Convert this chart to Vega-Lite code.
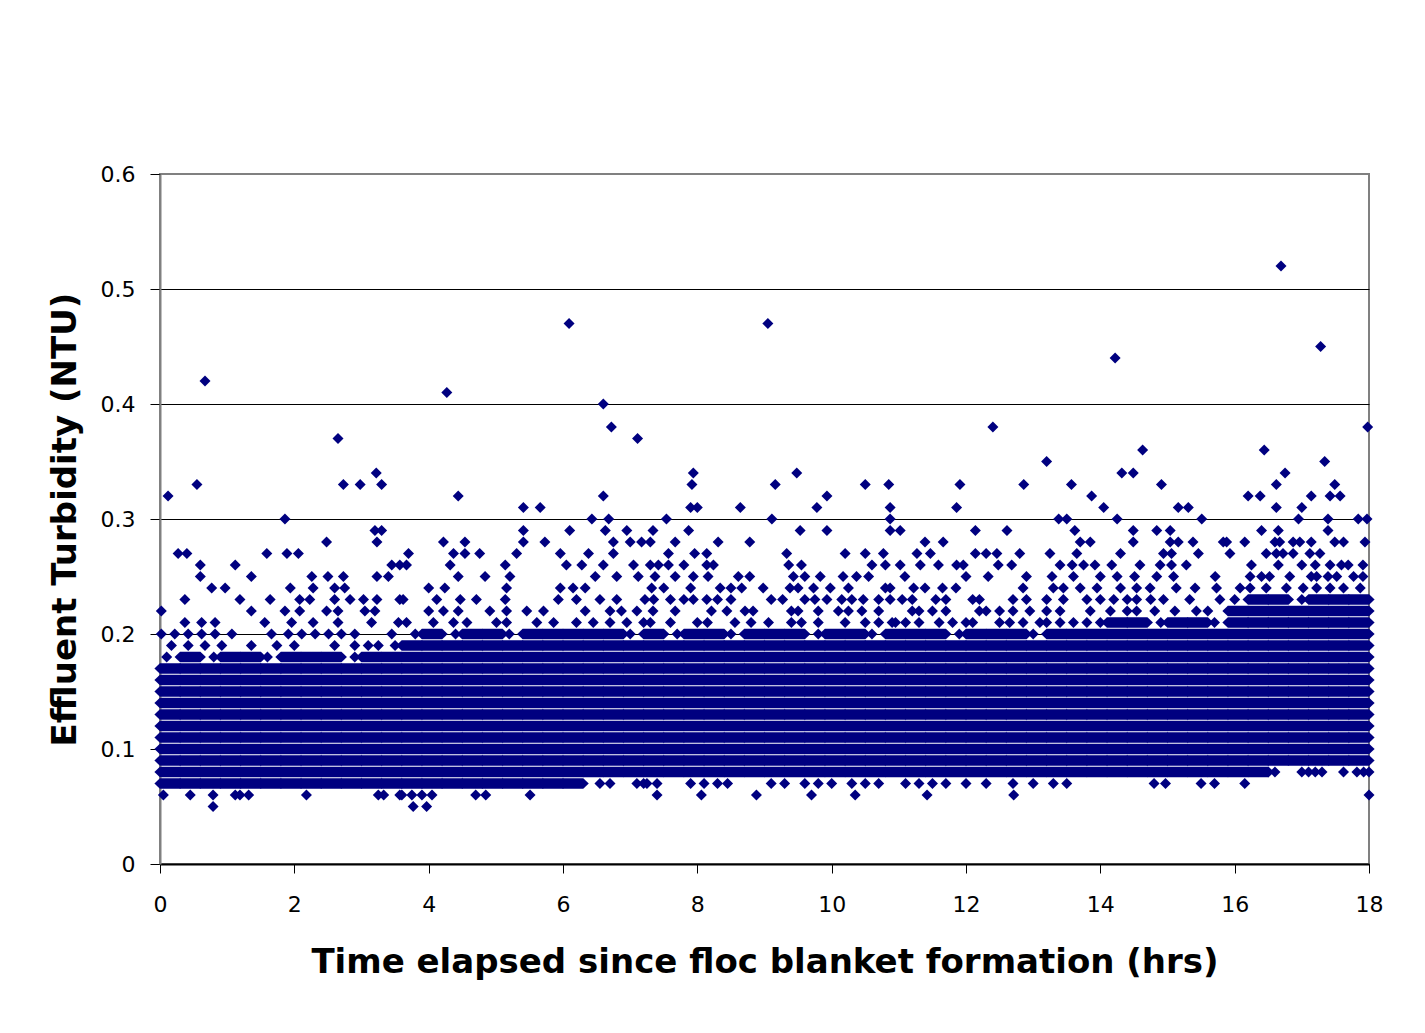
{
  "$schema": "https://vega.github.io/schema/vega-lite/v6.json",
  "width": 1209,
  "height": 690,
  "autosize": {"type": "none"},
  "padding": {"left": 160, "top": 174, "right": 56, "bottom": 169},
  "background": "white",
  "config": {
    "view": {"stroke": "#808080", "strokeWidth": 2},
    "axis": {
      "labelFont": "DejaVu Sans",
      "labelFontSize": 22,
      "labelColor": "black",
      "titleFont": "DejaVu Sans",
      "titleFontSize": 34,
      "titleFontWeight": "bold",
      "titleColor": "black",
      "tickColor": "black",
      "tickWidth": 1
    }
  },
  "encoding": {
    "x": {
      "field": "t",
      "type": "quantitative",
      "scale": {"domain": [0, 18], "nice": false, "zero": false},
      "axis": {
        "values": [0, 2, 4, 6, 8, 10, 12, 14, 16, 18],
        "grid": false,
        "tickSize": 9,
        "labelPadding": 21,
        "labelFlush": false,
        "labelOverlap": false,
        "domainColor": "black",
        "domainWidth": 2,
        "title": "Time elapsed since floc blanket formation (hrs)",
        "titlePadding": 30
      }
    },
    "y": {
      "field": "v",
      "type": "quantitative",
      "scale": {"domain": [0, 0.6], "nice": false},
      "axis": {
        "values": [0, 0.1, 0.2, 0.3, 0.4, 0.5, 0.6],
        "format": ".1~f",
        "tickSize": 10,
        "labelPadding": 15,
        "labelOverlap": false,
        "domainColor": "#808080",
        "domainWidth": 2,
        "grid": true,
        "gridColor": {"condition": {"test": "datum.value > 0.55", "value": "#808080"}, "value": "black"},
        "gridWidth": 1,
        "title": "Effluent Turbidity (NTU)",
        "titlePadding": 18
      }
    }
  },
  "layer": [
    {
      "data": {
        "values": "t,v\n0.15,0.07\n0.15,0.08\n0.15,0.09\n0.15,0.1\n0.15,0.11\n0.15,0.12\n0.15,0.13\n0.15,0.14\n0.15,0.15\n0.15,0.16\n0.15,0.17\n0.45,0.07\n0.45,0.08\n0.45,0.09\n0.45,0.1\n0.45,0.11\n0.45,0.12\n0.45,0.13\n0.45,0.14\n0.45,0.15\n0.45,0.16\n0.45,0.17\n0.45,0.18\n0.75,0.07\n0.75,0.08\n0.75,0.09\n0.75,0.1\n0.75,0.11\n0.75,0.12\n0.75,0.13\n0.75,0.14\n0.75,0.15\n0.75,0.16\n0.75,0.17\n1.05,0.07\n1.05,0.08\n1.05,0.09\n1.05,0.1\n1.05,0.11\n1.05,0.12\n1.05,0.13\n1.05,0.14\n1.05,0.15\n1.05,0.16\n1.05,0.17\n1.05,0.18\n1.35,0.07\n1.35,0.08\n1.35,0.09\n1.35,0.1\n1.35,0.11\n1.35,0.12\n1.35,0.13\n1.35,0.14\n1.35,0.15\n1.35,0.16\n1.35,0.17\n1.35,0.18\n1.65,0.07\n1.65,0.08\n1.65,0.09\n1.65,0.1\n1.65,0.11\n1.65,0.12\n1.65,0.13\n1.65,0.14\n1.65,0.15\n1.65,0.16\n1.65,0.17\n1.95,0.07\n1.95,0.08\n1.95,0.09\n1.95,0.1\n1.95,0.11\n1.95,0.12\n1.95,0.13\n1.95,0.14\n1.95,0.15\n1.95,0.16\n1.95,0.17\n1.95,0.18\n2.25,0.07\n2.25,0.08\n2.25,0.09\n2.25,0.1\n2.25,0.11\n2.25,0.12\n2.25,0.13\n2.25,0.14\n2.25,0.15\n2.25,0.16\n2.25,0.17\n2.25,0.18\n2.55,0.07\n2.55,0.08\n2.55,0.09\n2.55,0.1\n2.55,0.11\n2.55,0.12\n2.55,0.13\n2.55,0.14\n2.55,0.15\n2.55,0.16\n2.55,0.17\n2.55,0.18\n2.85,0.07\n2.85,0.08\n2.85,0.09\n2.85,0.1\n2.85,0.11\n2.85,0.12\n2.85,0.13\n2.85,0.14\n2.85,0.15\n2.85,0.16\n2.85,0.17\n3.15,0.07\n3.15,0.08\n3.15,0.09\n3.15,0.1\n3.15,0.11\n3.15,0.12\n3.15,0.13\n3.15,0.14\n3.15,0.15\n3.15,0.16\n3.15,0.17\n3.15,0.18\n3.45,0.07\n3.45,0.08\n3.45,0.09\n3.45,0.1\n3.45,0.11\n3.45,0.12\n3.45,0.13\n3.45,0.14\n3.45,0.15\n3.45,0.16\n3.45,0.17\n3.45,0.18\n3.75,0.07\n3.75,0.08\n3.75,0.09\n3.75,0.1\n3.75,0.11\n3.75,0.12\n3.75,0.13\n3.75,0.14\n3.75,0.15\n3.75,0.16\n3.75,0.17\n3.75,0.18\n3.75,0.19\n4.05,0.07\n4.05,0.08\n4.05,0.09\n4.05,0.1\n4.05,0.11\n4.05,0.12\n4.05,0.13\n4.05,0.14\n4.05,0.15\n4.05,0.16\n4.05,0.17\n4.05,0.18\n4.05,0.19\n4.05,0.2\n4.35,0.07\n4.35,0.08\n4.35,0.09\n4.35,0.1\n4.35,0.11\n4.35,0.12\n4.35,0.13\n4.35,0.14\n4.35,0.15\n4.35,0.16\n4.35,0.17\n4.35,0.18\n4.35,0.19\n4.65,0.07\n4.65,0.08\n4.65,0.09\n4.65,0.1\n4.65,0.11\n4.65,0.12\n4.65,0.13\n4.65,0.14\n4.65,0.15\n4.65,0.16\n4.65,0.17\n4.65,0.18\n4.65,0.19\n4.65,0.2\n4.95,0.07\n4.95,0.08\n4.95,0.09\n4.95,0.1\n4.95,0.11\n4.95,0.12\n4.95,0.13\n4.95,0.14\n4.95,0.15\n4.95,0.16\n4.95,0.17\n4.95,0.18\n4.95,0.19\n4.95,0.2\n5.25,0.07\n5.25,0.08\n5.25,0.09\n5.25,0.1\n5.25,0.11\n5.25,0.12\n5.25,0.13\n5.25,0.14\n5.25,0.15\n5.25,0.16\n5.25,0.17\n5.25,0.18\n5.25,0.19\n5.55,0.07\n5.55,0.08\n5.55,0.09\n5.55,0.1\n5.55,0.11\n5.55,0.12\n5.55,0.13\n5.55,0.14\n5.55,0.15\n5.55,0.16\n5.55,0.17\n5.55,0.18\n5.55,0.19\n5.55,0.2\n5.85,0.07\n5.85,0.08\n5.85,0.09\n5.85,0.1\n5.85,0.11\n5.85,0.12\n5.85,0.13\n5.85,0.14\n5.85,0.15\n5.85,0.16\n5.85,0.17\n5.85,0.18\n5.85,0.19\n5.85,0.2\n6.15,0.07\n6.15,0.08\n6.15,0.09\n6.15,0.1\n6.15,0.11\n6.15,0.12\n6.15,0.13\n6.15,0.14\n6.15,0.15\n6.15,0.16\n6.15,0.17\n6.15,0.18\n6.15,0.19\n6.15,0.2\n6.45,0.08\n6.45,0.09\n6.45,0.1\n6.45,0.11\n6.45,0.12\n6.45,0.13\n6.45,0.14\n6.45,0.15\n6.45,0.16\n6.45,0.17\n6.45,0.18\n6.45,0.19\n6.45,0.2\n6.75,0.08\n6.75,0.09\n6.75,0.1\n6.75,0.11\n6.75,0.12\n6.75,0.13\n6.75,0.14\n6.75,0.15\n6.75,0.16\n6.75,0.17\n6.75,0.18\n6.75,0.19\n6.75,0.2\n7.05,0.08\n7.05,0.09\n7.05,0.1\n7.05,0.11\n7.05,0.12\n7.05,0.13\n7.05,0.14\n7.05,0.15\n7.05,0.16\n7.05,0.17\n7.05,0.18\n7.05,0.19\n7.35,0.08\n7.35,0.09\n7.35,0.1\n7.35,0.11\n7.35,0.12\n7.35,0.13\n7.35,0.14\n7.35,0.15\n7.35,0.16\n7.35,0.17\n7.35,0.18\n7.35,0.19\n7.35,0.2\n7.65,0.08\n7.65,0.09\n7.65,0.1\n7.65,0.11\n7.65,0.12\n7.65,0.13\n7.65,0.14\n7.65,0.15\n7.65,0.16\n7.65,0.17\n7.65,0.18\n7.65,0.19\n7.95,0.08\n7.95,0.09\n7.95,0.1\n7.95,0.11\n7.95,0.12\n7.95,0.13\n7.95,0.14\n7.95,0.15\n7.95,0.16\n7.95,0.17\n7.95,0.18\n7.95,0.19\n7.95,0.2\n8.25,0.08\n8.25,0.09\n8.25,0.1\n8.25,0.11\n8.25,0.12\n8.25,0.13\n8.25,0.14\n8.25,0.15\n8.25,0.16\n8.25,0.17\n8.25,0.18\n8.25,0.19\n8.25,0.2\n8.55,0.08\n8.55,0.09\n8.55,0.1\n8.55,0.11\n8.55,0.12\n8.55,0.13\n8.55,0.14\n8.55,0.15\n8.55,0.16\n8.55,0.17\n8.55,0.18\n8.55,0.19\n8.85,0.08\n8.85,0.09\n8.85,0.1\n8.85,0.11\n8.85,0.12\n8.85,0.13\n8.85,0.14\n8.85,0.15\n8.85,0.16\n8.85,0.17\n8.85,0.18\n8.85,0.19\n8.85,0.2\n9.15,0.08\n9.15,0.09\n9.15,0.1\n9.15,0.11\n9.15,0.12\n9.15,0.13\n9.15,0.14\n9.15,0.15\n9.15,0.16\n9.15,0.17\n9.15,0.18\n9.15,0.19\n9.15,0.2\n9.45,0.08\n9.45,0.09\n9.45,0.1\n9.45,0.11\n9.45,0.12\n9.45,0.13\n9.45,0.14\n9.45,0.15\n9.45,0.16\n9.45,0.17\n9.45,0.18\n9.45,0.19\n9.45,0.2\n9.75,0.08\n9.75,0.09\n9.75,0.1\n9.75,0.11\n9.75,0.12\n9.75,0.13\n9.75,0.14\n9.75,0.15\n9.75,0.16\n9.75,0.17\n9.75,0.18\n9.75,0.19\n10.05,0.08\n10.05,0.09\n10.05,0.1\n10.05,0.11\n10.05,0.12\n10.05,0.13\n10.05,0.14\n10.05,0.15\n10.05,0.16\n10.05,0.17\n10.05,0.18\n10.05,0.19\n10.05,0.2\n10.35,0.08\n10.35,0.09\n10.35,0.1\n10.35,0.11\n10.35,0.12\n10.35,0.13\n10.35,0.14\n10.35,0.15\n10.35,0.16\n10.35,0.17\n10.35,0.18\n10.35,0.19\n10.35,0.2\n10.65,0.08\n10.65,0.09\n10.65,0.1\n10.65,0.11\n10.65,0.12\n10.65,0.13\n10.65,0.14\n10.65,0.15\n10.65,0.16\n10.65,0.17\n10.65,0.18\n10.65,0.19\n10.95,0.08\n10.95,0.09\n10.95,0.1\n10.95,0.11\n10.95,0.12\n10.95,0.13\n10.95,0.14\n10.95,0.15\n10.95,0.16\n10.95,0.17\n10.95,0.18\n10.95,0.19\n10.95,0.2\n11.25,0.08\n11.25,0.09\n11.25,0.1\n11.25,0.11\n11.25,0.12\n11.25,0.13\n11.25,0.14\n11.25,0.15\n11.25,0.16\n11.25,0.17\n11.25,0.18\n11.25,0.19\n11.25,0.2\n11.55,0.08\n11.55,0.09\n11.55,0.1\n11.55,0.11\n11.55,0.12\n11.55,0.13\n11.55,0.14\n11.55,0.15\n11.55,0.16\n11.55,0.17\n11.55,0.18\n11.55,0.19\n11.55,0.2\n11.85,0.08\n11.85,0.09\n11.85,0.1\n11.85,0.11\n11.85,0.12\n11.85,0.13\n11.85,0.14\n11.85,0.15\n11.85,0.16\n11.85,0.17\n11.85,0.18\n11.85,0.19\n12.15,0.08\n12.15,0.09\n12.15,0.1\n12.15,0.11\n12.15,0.12\n12.15,0.13\n12.15,0.14\n12.15,0.15\n12.15,0.16\n12.15,0.17\n12.15,0.18\n12.15,0.19\n12.15,0.2\n12.45,0.08\n12.45,0.09\n12.45,0.1\n12.45,0.11\n12.45,0.12\n12.45,0.13\n12.45,0.14\n12.45,0.15\n12.45,0.16\n12.45,0.17\n12.45,0.18\n12.45,0.19\n12.45,0.2\n12.75,0.08\n12.75,0.09\n12.75,0.1\n12.75,0.11\n12.75,0.12\n12.75,0.13\n12.75,0.14\n12.75,0.15\n12.75,0.16\n12.75,0.17\n12.75,0.18\n12.75,0.19\n12.75,0.2\n13.05,0.08\n13.05,0.09\n13.05,0.1\n13.05,0.11\n13.05,0.12\n13.05,0.13\n13.05,0.14\n13.05,0.15\n13.05,0.16\n13.05,0.17\n13.05,0.18\n13.05,0.19\n13.35,0.08\n13.35,0.09\n13.35,0.1\n13.35,0.11\n13.35,0.12\n13.35,0.13\n13.35,0.14\n13.35,0.15\n13.35,0.16\n13.35,0.17\n13.35,0.18\n13.35,0.19\n13.35,0.2\n13.65,0.08\n13.65,0.09\n13.65,0.1\n13.65,0.11\n13.65,0.12\n13.65,0.13\n13.65,0.14\n13.65,0.15\n13.65,0.16\n13.65,0.17\n13.65,0.18\n13.65,0.19\n13.65,0.2\n13.95,0.08\n13.95,0.09\n13.95,0.1\n13.95,0.11\n13.95,0.12\n13.95,0.13\n13.95,0.14\n13.95,0.15\n13.95,0.16\n13.95,0.17\n13.95,0.18\n13.95,0.19\n13.95,0.2\n14.25,0.08\n14.25,0.09\n14.25,0.1\n14.25,0.11\n14.25,0.12\n14.25,0.13\n14.25,0.14\n14.25,0.15\n14.25,0.16\n14.25,0.17\n14.25,0.18\n14.25,0.19\n14.25,0.2\n14.25,0.21\n14.55,0.08\n14.55,0.09\n14.55,0.1\n14.55,0.11\n14.55,0.12\n14.55,0.13\n14.55,0.14\n14.55,0.15\n14.55,0.16\n14.55,0.17\n14.55,0.18\n14.55,0.19\n14.55,0.2\n14.55,0.21\n14.85,0.08\n14.85,0.09\n14.85,0.1\n14.85,0.11\n14.85,0.12\n14.85,0.13\n14.85,0.14\n14.85,0.15\n14.85,0.16\n14.85,0.17\n14.85,0.18\n14.85,0.19\n14.85,0.2\n15.15,0.08\n15.15,0.09\n15.15,0.1\n15.15,0.11\n15.15,0.12\n15.15,0.13\n15.15,0.14\n15.15,0.15\n15.15,0.16\n15.15,0.17\n15.15,0.18\n15.15,0.19\n15.15,0.2\n15.15,0.21\n15.45,0.08\n15.45,0.09\n15.45,0.1\n15.45,0.11\n15.45,0.12\n15.45,0.13\n15.45,0.14\n15.45,0.15\n15.45,0.16\n15.45,0.17\n15.45,0.18\n15.45,0.19\n15.45,0.2\n15.45,0.21\n15.75,0.08\n15.75,0.09\n15.75,0.1\n15.75,0.11\n15.75,0.12\n15.75,0.13\n15.75,0.14\n15.75,0.15\n15.75,0.16\n15.75,0.17\n15.75,0.18\n15.75,0.19\n15.75,0.2\n16.05,0.08\n16.05,0.09\n16.05,0.1\n16.05,0.11\n16.05,0.12\n16.05,0.13\n16.05,0.14\n16.05,0.15\n16.05,0.16\n16.05,0.17\n16.05,0.18\n16.05,0.19\n16.05,0.2\n16.05,0.21\n16.05,0.22\n16.35,0.08\n16.35,0.09\n16.35,0.1\n16.35,0.11\n16.35,0.12\n16.35,0.13\n16.35,0.14\n16.35,0.15\n16.35,0.16\n16.35,0.17\n16.35,0.18\n16.35,0.19\n16.35,0.2\n16.35,0.21\n16.35,0.22\n16.35,0.23\n16.65,0.09\n16.65,0.1\n16.65,0.11\n16.65,0.12\n16.65,0.13\n16.65,0.14\n16.65,0.15\n16.65,0.16\n16.65,0.17\n16.65,0.18\n16.65,0.19\n16.65,0.2\n16.65,0.21\n16.65,0.22\n16.65,0.23\n16.95,0.09\n16.95,0.1\n16.95,0.11\n16.95,0.12\n16.95,0.13\n16.95,0.14\n16.95,0.15\n16.95,0.16\n16.95,0.17\n16.95,0.18\n16.95,0.19\n16.95,0.2\n16.95,0.21\n16.95,0.22\n17.25,0.09\n17.25,0.1\n17.25,0.11\n17.25,0.12\n17.25,0.13\n17.25,0.14\n17.25,0.15\n17.25,0.16\n17.25,0.17\n17.25,0.18\n17.25,0.19\n17.25,0.2\n17.25,0.21\n17.25,0.22\n17.25,0.23\n17.55,0.09\n17.55,0.1\n17.55,0.11\n17.55,0.12\n17.55,0.13\n17.55,0.14\n17.55,0.15\n17.55,0.16\n17.55,0.17\n17.55,0.18\n17.55,0.19\n17.55,0.2\n17.55,0.21\n17.55,0.22\n17.55,0.23\n17.85,0.09\n17.85,0.1\n17.85,0.11\n17.85,0.12\n17.85,0.13\n17.85,0.14\n17.85,0.15\n17.85,0.16\n17.85,0.17\n17.85,0.18\n17.85,0.19\n17.85,0.2\n17.85,0.21\n17.85,0.22\n17.85,0.23",
        "format": {"type": "csv", "parse": {"t": "number", "v": "number"}}
      },
      "mark": {
        "type": "point",
        "shape": "M-2.85,0L-1.85,-0.95L1.85,-0.95L2.85,0L1.85,0.95L-1.85,0.95Z",
        "filled": true,
        "size": 121,
        "color": "#000080",
        "opacity": 1
      }
    },
    {
      "data": {
        "values": "t,v\n0.1,0.18\n0.8,0.18\n1.6,0.18\n2.9,0.18\n3.8,0.2\n4.4,0.2\n5.2,0.2\n7.0,0.2\n7.7,0.2\n8.5,0.2\n9.8,0.2\n10.6,0.2\n11.9,0.2\n13.0,0.2\n14.9,0.21\n15.7,0.21\n16.0,0.23\n17.0,0.23\n0.17,0.19\n0.42,0.19\n0.67,0.19\n0.92,0.19\n1.36,0.19\n1.74,0.19\n2.0,0.19\n2.6,0.19\n2.9,0.19\n3.1,0.19\n3.25,0.19\n3.5,0.19\n0.02,0.2\n0.22,0.2\n0.42,0.2\n0.62,0.2\n0.82,0.2\n1.07,0.2\n1.66,0.2\n1.91,0.2\n2.11,0.2\n2.31,0.2\n2.51,0.2\n2.7,0.2\n2.9,0.2\n3.45,0.2\n0.37,0.21\n0.62,0.21\n0.82,0.21\n1.56,0.21\n1.96,0.21\n2.28,0.21\n2.65,0.21\n3.15,0.21\n3.55,0.21\n0.02,0.22\n1.36,0.22\n1.86,0.22\n2.08,0.22\n2.48,0.22\n2.65,0.22\n3.05,0.22\n3.2,0.22\n0.37,0.23\n1.19,0.23\n1.64,0.23\n2.08,0.23\n2.23,0.23\n2.6,0.23\n2.83,0.23\n3.03,0.23\n3.23,0.23\n3.57,0.23\n0.77,0.24\n0.97,0.24\n1.94,0.24\n2.28,0.24\n2.6,0.24\n2.75,0.24\n0.6,0.25\n1.36,0.25\n2.26,0.25\n2.5,0.25\n2.73,0.25\n3.23,0.25\n3.4,0.25\n0.6,0.26\n1.12,0.26\n3.45,0.26\n3.57,0.26\n0.27,0.27\n0.4,0.27\n1.59,0.27\n1.89,0.27\n2.06,0.27\n2.48,0.28\n3.23,0.28\n3.2,0.29\n3.3,0.29\n1.86,0.3\n0.12,0.32\n0.55,0.33\n2.73,0.33\n2.98,0.33\n3.3,0.33\n3.22,0.34\n2.65,0.37\n0.67,0.42\n0.05,0.06\n0.45,0.06\n0.79,0.06\n1.12,0.06\n1.19,0.06\n1.32,0.06\n2.18,0.06\n3.25,0.06\n3.33,0.06\n3.57,0.06\n0.79,0.05\n3.67,0.21\n4.07,0.21\n4.37,0.21\n4.57,0.21\n5.01,0.21\n5.16,0.21\n5.61,0.21\n5.86,0.21\n6.2,0.21\n6.45,0.21\n6.7,0.21\n6.95,0.21\n7.2,0.21\n4.0,0.22\n4.22,0.22\n4.44,0.22\n4.91,0.22\n5.16,0.22\n5.46,0.22\n5.71,0.22\n6.33,0.22\n6.7,0.22\n6.87,0.22\n7.1,0.22\n3.62,0.23\n4.12,0.23\n4.47,0.23\n4.71,0.23\n5.14,0.23\n5.93,0.23\n6.2,0.23\n6.55,0.23\n6.8,0.23\n7.22,0.23\n4.0,0.24\n4.24,0.24\n5.16,0.24\n5.96,0.24\n6.15,0.24\n6.33,0.24\n4.44,0.25\n4.84,0.25\n5.21,0.25\n6.48,0.25\n6.8,0.25\n7.12,0.25\n3.67,0.26\n4.32,0.26\n5.14,0.26\n6.05,0.26\n6.28,0.26\n6.6,0.26\n7.05,0.26\n3.7,0.27\n4.37,0.27\n4.54,0.27\n4.76,0.27\n5.31,0.27\n5.96,0.27\n6.38,0.27\n6.75,0.27\n4.22,0.28\n4.54,0.28\n5.41,0.28\n5.73,0.28\n6.75,0.28\n7.0,0.28\n7.17,0.28\n5.41,0.29\n6.1,0.29\n6.63,0.29\n6.95,0.29\n6.43,0.3\n6.68,0.3\n5.41,0.31\n5.66,0.31\n4.44,0.32\n6.6,0.32\n7.11,0.37\n6.72,0.38\n4.27,0.41\n6.09,0.47\n6.6,0.4\n3.6,0.06\n3.75,0.06\n3.9,0.06\n4.05,0.06\n4.7,0.06\n4.85,0.06\n5.51,0.06\n3.77,0.05\n3.97,0.05\n6.55,0.07\n6.7,0.07\n7.1,0.07\n7.2,0.07\n7.25,0.07\n7.4,0.07\n7.9,0.07\n8.1,0.07\n8.3,0.07\n8.45,0.07\n9.1,0.07\n9.3,0.07\n9.6,0.07\n9.8,0.07\n10.0,0.07\n10.3,0.07\n10.5,0.07\n10.7,0.07\n7.4,0.06\n8.06,0.06\n8.88,0.06\n9.7,0.06\n10.35,0.06\n7.3,0.21\n7.6,0.21\n8.0,0.21\n8.15,0.21\n8.56,0.21\n8.8,0.21\n9.06,0.21\n9.4,0.21\n9.55,0.21\n9.8,0.21\n10.2,0.21\n10.5,0.21\n10.7,0.21\n10.9,0.21\n7.34,0.22\n7.67,0.22\n8.21,0.22\n8.44,0.22\n8.71,0.22\n8.83,0.22\n9.4,0.22\n9.5,0.22\n9.8,0.22\n10.1,0.22\n10.25,0.22\n10.45,0.22\n10.7,0.22\n7.35,0.23\n7.6,0.23\n7.8,0.23\n7.94,0.23\n8.14,0.23\n8.3,0.23\n8.5,0.23\n9.1,0.23\n9.27,0.23\n9.6,0.23\n9.75,0.23\n9.93,0.23\n10.15,0.23\n10.3,0.23\n10.47,0.23\n10.7,0.23\n7.32,0.24\n7.5,0.24\n7.9,0.24\n8.34,0.24\n8.5,0.24\n8.66,0.24\n8.98,0.24\n9.38,0.24\n9.5,0.24\n9.73,0.24\n9.98,0.24\n10.25,0.24\n10.8,0.24\n7.37,0.25\n7.67,0.25\n7.94,0.25\n8.16,0.25\n8.61,0.25\n8.78,0.25\n9.43,0.25\n9.6,0.25\n9.83,0.25\n10.17,0.25\n10.37,0.25\n10.55,0.25\n7.3,0.26\n7.42,0.26\n7.57,0.26\n7.8,0.26\n8.14,0.26\n8.24,0.26\n9.36,0.26\n9.55,0.26\n10.6,0.26\n10.8,0.26\n7.57,0.27\n7.96,0.27\n8.14,0.27\n9.33,0.27\n10.2,0.27\n10.5,0.27\n10.77,0.27\n7.3,0.28\n7.67,0.28\n8.31,0.28\n8.78,0.28\n7.34,0.29\n7.87,0.29\n9.53,0.29\n9.93,0.29\n7.54,0.3\n9.11,0.3\n7.9,0.31\n8.0,0.31\n8.64,0.31\n9.78,0.31\n9.93,0.32\n7.92,0.33\n9.16,0.33\n10.5,0.33\n7.94,0.34\n9.48,0.34\n9.05,0.47\n11.1,0.07\n11.3,0.07\n11.5,0.07\n11.7,0.07\n12.0,0.07\n12.3,0.07\n12.7,0.07\n13.0,0.07\n13.3,0.07\n13.5,0.07\n11.42,0.06\n12.71,0.06\n10.95,0.21\n11.1,0.21\n11.3,0.21\n11.6,0.21\n11.8,0.21\n12.0,0.21\n12.1,0.21\n12.5,0.21\n12.65,0.21\n12.85,0.21\n13.1,0.21\n13.2,0.21\n13.4,0.21\n13.6,0.21\n13.8,0.21\n14.0,0.21\n11.2,0.22\n11.3,0.22\n11.5,0.22\n11.7,0.22\n12.2,0.22\n12.3,0.22\n12.5,0.22\n12.7,0.22\n12.95,0.22\n13.2,0.22\n13.4,0.22\n13.85,0.22\n14.15,0.22\n14.4,0.22\n10.87,0.23\n11.05,0.23\n11.2,0.23\n11.55,0.23\n11.7,0.23\n12.1,0.23\n12.2,0.23\n12.7,0.23\n12.9,0.23\n13.2,0.23\n13.45,0.23\n13.8,0.23\n14.0,0.23\n14.2,0.23\n14.4,0.23\n10.87,0.24\n11.22,0.24\n11.39,0.24\n11.65,0.24\n11.85,0.24\n12.85,0.24\n13.3,0.24\n13.45,0.24\n13.7,0.24\n13.95,0.24\n14.3,0.24\n11.09,0.25\n12.0,0.25\n12.33,0.25\n12.9,0.25\n13.28,0.25\n13.6,0.25\n14.0,0.25\n14.25,0.25\n11.02,0.26\n11.32,0.26\n11.59,0.26\n11.86,0.26\n11.96,0.26\n12.48,0.26\n12.68,0.26\n13.4,0.26\n13.58,0.26\n13.75,0.26\n13.92,0.26\n14.17,0.26\n11.27,0.27\n11.47,0.27\n12.14,0.27\n12.3,0.27\n12.46,0.27\n12.8,0.27\n13.25,0.27\n13.65,0.27\n14.3,0.27\n11.39,0.28\n11.66,0.28\n13.7,0.28\n13.85,0.28\n10.87,0.29\n11.02,0.29\n12.14,0.29\n12.61,0.29\n13.62,0.29\n10.87,0.3\n13.38,0.3\n13.5,0.3\n14.25,0.3\n10.87,0.31\n11.86,0.31\n14.05,0.31\n13.87,0.32\n10.85,0.33\n11.91,0.33\n12.86,0.33\n13.57,0.33\n14.32,0.34\n13.2,0.35\n12.4,0.38\n14.22,0.44\n14.8,0.07\n14.97,0.07\n15.5,0.07\n15.7,0.07\n16.15,0.07\n18.0,0.06\n16.5,0.08\n16.6,0.08\n17.0,0.08\n17.1,0.08\n17.2,0.08\n17.3,0.08\n17.62,0.08\n17.82,0.08\n17.92,0.08\n18.0,0.08\n14.54,0.22\n14.81,0.22\n15.11,0.22\n15.43,0.22\n15.6,0.22\n14.54,0.23\n14.75,0.23\n14.94,0.23\n15.33,0.23\n15.78,0.23\n14.54,0.24\n14.74,0.24\n15.13,0.24\n15.41,0.24\n15.73,0.24\n16.08,0.24\n16.23,0.24\n16.47,0.24\n16.77,0.24\n17.02,0.24\n17.22,0.24\n17.42,0.24\n17.62,0.24\n17.87,0.24\n14.51,0.25\n14.84,0.25\n15.09,0.25\n15.71,0.25\n16.23,0.25\n16.4,0.25\n16.52,0.25\n16.82,0.25\n17.14,0.25\n17.22,0.25\n17.39,0.25\n17.52,0.25\n17.77,0.25\n17.91,0.25\n14.59,0.26\n14.89,0.26\n15.06,0.26\n15.28,0.26\n16.25,0.26\n16.65,0.26\n17.0,0.26\n17.2,0.26\n17.42,0.26\n17.59,0.26\n17.69,0.26\n17.91,0.26\n14.94,0.27\n15.06,0.27\n15.46,0.27\n15.93,0.27\n16.47,0.27\n16.62,0.27\n16.72,0.27\n16.87,0.27\n17.12,0.27\n17.27,0.27\n14.49,0.28\n15.04,0.28\n15.16,0.28\n15.38,0.28\n15.83,0.28\n15.88,0.28\n16.15,0.28\n16.6,0.28\n16.67,0.28\n16.87,0.28\n16.97,0.28\n17.14,0.28\n17.49,0.28\n17.62,0.28\n17.94,0.28\n14.49,0.29\n14.84,0.29\n15.04,0.29\n16.4,0.29\n16.65,0.29\n17.39,0.29\n15.51,0.3\n16.95,0.3\n17.39,0.3\n17.84,0.3\n17.97,0.3\n15.16,0.31\n15.31,0.31\n16.62,0.31\n17.0,0.31\n16.2,0.32\n16.38,0.32\n17.14,0.32\n17.42,0.32\n17.57,0.32\n14.91,0.33\n16.62,0.33\n17.49,0.33\n14.49,0.34\n16.75,0.34\n17.34,0.35\n14.63,0.36\n16.44,0.36\n17.98,0.38\n17.28,0.45\n16.69,0.52",
        "format": {"type": "csv", "parse": {"t": "number", "v": "number"}}
      },
      "mark": {
        "type": "point",
        "shape": "diamond",
        "filled": true,
        "size": 121,
        "color": "#000080",
        "opacity": 1
      }
    }
  ]
}
